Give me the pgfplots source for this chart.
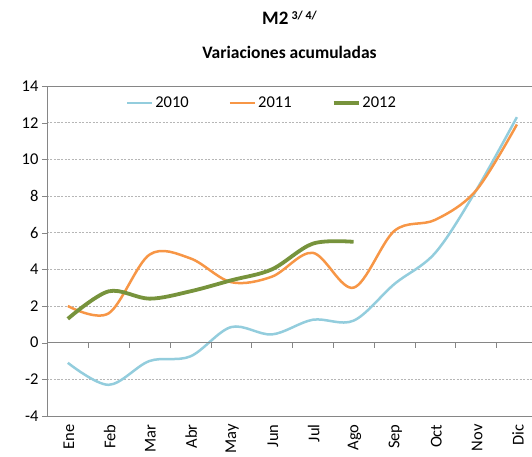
\documentclass[border=0pt]{standalone}
\usepackage{fontspec}
\setmainfont{Carlito}
\usepackage{pgfplots}
\pgfplotsset{compat=1.18}
\definecolor{c2010}{RGB}{147,205,221}
\definecolor{c2011}{RGB}{247,150,70}
\definecolor{c2012}{RGB}{119,147,60}
\definecolor{axgray}{RGB}{134,134,134}

\begin{document}
\begin{tikzpicture}
\path[use as bounding box] (-47pt,-41pt) rectangle (485pt,416pt);
\begin{axis}[
  scale only axis, width=485pt, height=330pt,
  at={(0pt,0pt)}, anchor=south west,
  xmin=-0.51, xmax=11.37, ymin=-4, ymax=14,
  ytick={-4,-2,...,14},
  xtick={0,...,11},
  xticklabels={Ene,Feb,Mar,Abr,May,Jun,Jul,Ago,Sep,Oct,Nov,Dic},
  axis y line*=left, axis x line*=bottom,
  axis line style={draw=axgray, -},
  x tick style={draw=none},
  y tick style={draw=axgray},
  tick align=outside, major tick length=5pt,
  ymajorgrids, grid style={axgray!60, dashed, dash pattern=on 2pt off 1.5pt},
  tick label style={font=\fontsize{16.5}{19}\selectfont},
  /pgf/number format/assume math mode=true,
  xticklabel style={rotate=90, anchor=east, yshift=-1pt},
  legend columns=3,
  legend style={draw=none, fill=none, at={(0.443,0.948)}, anchor=center,
    font=\fontsize{16.5}{19}\selectfont,
    /tikz/every even column/.append style={column sep=38pt}},
  legend image code/.code={\draw[#1] (0pt,0pt) -- (25pt,0pt);},
  every axis plot/.append style={smooth, tension=0.55},
]
\addplot[c2010, line width=2.5pt] coordinates {
(0,-1.1) (1,-2.3) (2,-1.0) (3,-0.75) (4,0.85) (5,0.45) (6,1.25) (7,1.2) (8,3.2) (9,4.9) (10,8.3) (11,12.3) };
\addplot[c2011, line width=2.5pt] coordinates {
(0,2.0) (1,1.6) (2,4.8) (3,4.6) (4,3.3) (5,3.6) (6,4.9) (7,3.0) (8,6.1) (9,6.7) (10,8.3) (11,11.9) };
\addplot[c2012, line width=3.8pt] coordinates {
(0,1.3) (1,2.8) (2,2.4) (3,2.8) (4,3.4) (5,4.0) (6,5.4) (7,5.5) };
\legend{2010,2011,2012}
\draw[axgray] (axis cs:-0.51,14) -- (axis cs:11.37,14);
\draw[axgray] (axis cs:-0.51,0) -- (axis cs:11.37,0);
\pgfplotsinvokeforeach{0.5,1.5,2.5,3.5,4.5,5.5,6.5,7.5,8.5,9.5,10.5}{
  \draw[axgray] (axis cs:#1,0) -- ++(0pt,-5pt);
}
\end{axis}
\node[font=\bfseries\fontsize{19}{22}\selectfont] at (242.5pt,398pt)
  {M2\,\raisebox{0.55ex}{\fontsize{12}{13}\selectfont 3/ 4/}};
\node[font=\bfseries\fontsize{17.5}{20}\selectfont] at (242.5pt,364pt)
  {Variaciones acumuladas};
\end{tikzpicture}
\end{document}
